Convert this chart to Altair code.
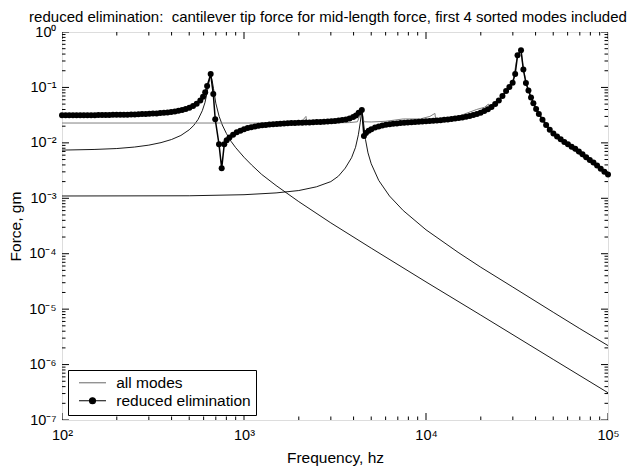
import altair as alt
import pandas as pd

FONT = "Liberation Sans"

# ---------------- data ----------------
# individual mode contribution 1 (thin black)
m1_freq = [100, 150, 200, 250, 300, 350, 400, 450, 500, 530, 560, 590, 610, 627, 642, 656,
           668, 680, 700, 730, 760, 800, 850, 900, 1000, 1100, 1250, 1500, 2000, 3000,
           5000, 10000, 20000, 50000, 100000]
m1_force = [0.0074, 0.0076, 0.0079, 0.0084, 0.0091, 0.0101, 0.0115, 0.0136, 0.0172, 0.0207,
            0.0266, 0.038, 0.053, 0.080, 0.125, 0.172, 0.135, 0.095, 0.052, 0.030, 0.021,
            0.0148, 0.0106, 0.0082, 0.0055, 0.0040, 0.0027, 0.0017, 0.00087, 0.00036,
            1.26e-4, 3.1e-5, 7.8e-6, 1.24e-6, 3.1e-7]

# individual mode contribution 2 (thin black)
m2_freq = [100, 500, 1000, 1500, 2000, 2500, 3000, 3300, 3600, 3900, 4100, 4250, 4350, 4440,
           4530, 4650, 4800, 5000, 5500, 6300, 7500, 10000, 15000, 20000, 30000, 50000,
           70000, 100000]
m2_force = [0.0011, 0.00111, 0.00116, 0.00125, 0.00138, 0.00161, 0.0020, 0.0025, 0.0035,
            0.0054, 0.0083, 0.014, 0.023, 0.039, 0.024, 0.0115, 0.0066, 0.0042, 0.0021,
            0.0011, 0.0006, 0.00027, 1.06e-4, 5.7e-5, 2.5e-5, 8.8e-6, 4.45e-6, 2.2e-6]

# all modes (thin grey)
all_freq = [100, 500, 1000, 1500, 1980, 2100, 2190, 2215, 2600, 3200, 3800, 4200, 4440,
            4560, 5000, 6000, 7500, 9300, 10500, 11200, 11300, 14000, 18970, 21000, 22000,
            22200, 24000, 26303, 29923, 31842, 33266, 34277, 36560, 40270, 50119, 63100,
            79430, 100000]
all_force = [0.0228, 0.0228, 0.0228, 0.0228, 0.0228, 0.0255, 0.030, 0.0230, 0.0229, 0.0230,
             0.0232, 0.0240, 0.039, 0.0240, 0.0238, 0.0245, 0.027, 0.027, 0.030, 0.034,
             0.0255, 0.0275, 0.040, 0.044, 0.050, 0.046, 0.051, 0.070, 0.122, 0.38, 0.47,
             0.21, 0.088, 0.041, 0.0148, 0.0078, 0.0045, 0.0026]

# reduced elimination (black line with dots)
red_freq = [100, 104.7, 109.6, 114.8, 120.2, 125.9, 131.8, 138.0, 144.5, 151.4, 158.5, 166.0,
            173.8, 182.0, 190.5, 199.5, 208.9, 218.8, 229.1, 239.9, 251.2, 263.0, 275.4,
            288.4, 302.0, 316.2, 331.1, 346.7, 363.1, 380.2, 398.1, 416.9, 436.5, 457.1,
            478.6, 501.2, 524.8, 549.5, 575.4, 595.7, 612, 627, 656, 678, 695, 729, 754,
            779, 803, 832, 871, 912, 955, 1000, 1047, 1096, 1148, 1202, 1259, 1318, 1380,
            1445, 1514, 1585, 1660, 1738, 1820, 1905, 1995, 2089, 2188, 2291, 2399, 2512,
            2630, 2754, 2884, 3020, 3162, 3311, 3467, 3631, 3802, 3981, 4121, 4266, 4440,
            4560, 4677, 4842, 5012, 5248, 5495, 5754, 6026, 6310, 6607, 6918, 7244, 7586,
            7943, 8318, 8710, 9120, 9550, 10000, 10471, 10965, 11482, 12023, 12589, 13183,
            13804, 14454, 15136, 15849, 16596, 17378, 18197, 19055, 19953, 20893, 21878,
            22909, 23988, 25119, 26303, 27542, 28710, 29923, 30903, 31842, 33266, 34277,
            35400, 36560, 37760, 38900, 40270, 41690, 43650, 45710, 47860, 50119, 52480,
            54950, 57540, 60260, 63100, 66070, 69180, 72440, 75860, 79430, 83180, 87100,
            91200, 95500, 100000]
red_force = [0.0314, 0.0314, 0.0314, 0.0314, 0.0315, 0.0315, 0.0315, 0.0316, 0.0316, 0.0316,
             0.0317, 0.0318, 0.0318, 0.0319, 0.0320, 0.0320, 0.0321, 0.0322, 0.0323, 0.0325,
             0.0326, 0.0328, 0.0330, 0.0332, 0.0334, 0.0337, 0.0340, 0.0344, 0.0348, 0.0354,
             0.0360, 0.0368, 0.0378, 0.0392, 0.041, 0.043, 0.046, 0.051, 0.058, 0.068, 0.082,
             0.106, 0.174, 0.076, 0.0266, 0.0094, 0.00347, 0.0094, 0.0112, 0.0125, 0.0140,
             0.0155, 0.0166, 0.0176, 0.0185, 0.0192, 0.0198, 0.0203, 0.0207, 0.0211, 0.0214,
             0.0217, 0.0219, 0.0221, 0.0223, 0.0225, 0.0227, 0.0228, 0.0230, 0.0231, 0.0232,
             0.0234, 0.0235, 0.0237, 0.0239, 0.0241, 0.0243, 0.0246, 0.0249, 0.0253, 0.0258,
             0.0265, 0.0275, 0.0292, 0.031, 0.035, 0.039, 0.0133, 0.0150, 0.0165, 0.0176,
             0.0189, 0.0198, 0.0206, 0.0212, 0.0217, 0.0221, 0.0224, 0.0227, 0.0230, 0.0233,
             0.0235, 0.0237, 0.0240, 0.0242, 0.0245, 0.0247, 0.0250, 0.0253, 0.0256, 0.0260,
             0.0264, 0.0269, 0.0274, 0.0280, 0.0288, 0.0296, 0.0306, 0.0318, 0.0333, 0.0351,
             0.0374, 0.0404, 0.0444, 0.050, 0.058, 0.070, 0.086, 0.102, 0.122, 0.175, 0.38,
             0.47, 0.21, 0.12, 0.088, 0.066, 0.052, 0.041, 0.033, 0.026, 0.021, 0.0172, 0.0148,
             0.0130, 0.0116, 0.0104, 0.0094, 0.0085, 0.0078, 0.0070, 0.0062, 0.0055, 0.0049,
             0.0044, 0.0039, 0.0034, 0.0030, 0.0027]

series_names = ["all modes", "reduced elimination"]
series_colors = ["#808080", "black"]

x_major = [100, 1000, 10000, 100000]
x_minor = [200, 300, 400, 500, 600, 700, 800, 900,
           2000, 3000, 4000, 5000, 6000, 7000, 8000, 9000,
           20000, 30000, 40000, 50000, 60000, 70000, 80000, 90000]
y_major = [1e-7, 1e-6, 1e-5, 1e-4, 1e-3, 1e-2, 1e-1, 1]
y_minor = [k * d for d in [1e-7, 1e-6, 1e-5, 1e-4, 1e-3, 1e-2, 1e-1] for k in range(2, 10)]

TITLE = ("reduced elimination:\u00a0 cantilever tip force for mid-length force, "
         "first 4 sorted modes included")

# ---------------- frames ----------------
modes_df = pd.DataFrame({
    "f": m1_freq + m2_freq,
    "F": m1_force + m2_force,
    "mode": ["mode 1"] * len(m1_freq) + ["mode 2"] * len(m2_freq),
})
all_df = pd.DataFrame({"f": all_freq, "F": all_force, "series": "all modes"})
red_df = pd.DataFrame({"f": red_freq, "F": red_force, "series": "reduced elimination"})

xs = alt.Scale(type="log", domain=[100, 100000], nice=False)
ys = alt.Scale(type="log", domain=[1e-7, 1], nice=False)

SUP = "['⁰','¹','²','³','⁴','⁵','⁶','⁷','⁸','⁹']"
x_label_expr = "'10' + " + SUP + "[round(log(datum.value)/LN10)]"
y_label_expr = ("datum.value > 0.5 ? '10⁰' : '10⁻' + " + SUP +
                "[round(-log(datum.value)/LN10)]")

x_axis = alt.Axis(values=x_major, ticks=False, domain=False, grid=False,
                  labelExpr=x_label_expr, labelFont=FONT, labelFontSize=14.5,
                  labelColor="black", labelPadding=8, labelFlush=False, labelOverlap=False,
                  labelBound=False, title="Frequency, hz", titleFont=FONT,
                  titleFontSize=15.5, titleFontWeight="normal", titleColor="black",
                  titlePadding=9)
y_axis = alt.Axis(values=y_major, ticks=False, domain=False, grid=False,
                  labelExpr=y_label_expr, labelFont=FONT, labelFontSize=14.5,
                  labelColor="black", labelPadding=6, labelFlush=False, labelOverlap=False,
                  labelBound=False, title="Force, gm", titleFont=FONT, titleFontSize=15.5,
                  titleFontWeight="normal", titleColor="black", titlePadding=5)

modes_layer = alt.Chart(modes_df).mark_line(color="black", strokeWidth=0.9).encode(
    x=alt.X("f:Q", scale=xs, axis=x_axis),
    y=alt.Y("F:Q", scale=ys, axis=y_axis),
    detail="mode:N",
)

all_layer = alt.Chart(all_df).mark_line(color="#808080", strokeWidth=1).encode(
    x=alt.X("f:Q", scale=xs, axis=None),
    y=alt.Y("F:Q", scale=ys, axis=None),
)

red_line = alt.Chart(red_df).mark_line(color="black", strokeWidth=1.5).encode(
    x=alt.X("f:Q", scale=xs, axis=None),
    y=alt.Y("F:Q", scale=ys, axis=None),
)

red_pts = alt.Chart(red_df).mark_circle(color="black", size=36, opacity=1).encode(
    x=alt.X("f:Q", scale=xs, axis=None),
    y=alt.Y("F:Q", scale=ys, axis=None),
)


# inward tick marks on all four sides of the frame (half of each tick is clipped away)
def xticks(values, length, at):
    return alt.Chart(pd.DataFrame({"v": values})).mark_tick(
        orient="vertical", size=2 * length, thickness=1, color="black", clip=True,
        opacity=1).encode(
        x=alt.X("v:Q", scale=xs, axis=None),
        y=alt.YDatum(at, scale=ys, axis=None),
    )


def yticks(values, length, at):
    return alt.Chart(pd.DataFrame({"v": values})).mark_tick(
        orient="horizontal", size=2 * length, thickness=1, color="black", clip=True,
        opacity=1).encode(
        y=alt.Y("v:Q", scale=ys, axis=None),
        x=alt.XDatum(at, scale=xs, axis=None),
    )


tick_layers = [
    xticks(x_major, 7, 1e-7), xticks(x_minor, 3.5, 1e-7),
    xticks(x_major, 7, 1), xticks(x_minor, 3.5, 1),
    yticks(y_major, 7, 100), yticks(y_minor, 3.5, 100),
    yticks(y_major, 7, 100000), yticks(y_minor, 3.5, 100000),
]

# legend: a grey line for "all modes", a black line with a dot for "reduced elimination"
line_path = "M-2,0L2,0"
dot_path = "M-2,0L2,0M0.44,0A0.44,0.44,0,1,1,-0.44,0A0.44,0.44,0,1,1,0.44,0Z"
leg = alt.Legend(orient="none", legendX=6, legendY=338, title=None, strokeColor="black",
                 fillColor="white", padding=5, labelFont=FONT, labelFontSize=15.5,
                 labelColor="black", symbolSize=182, symbolStrokeWidth=1.2,
                 symbolOpacity=1, symbolOffset=11.75, labelOffset=16, rowPadding=1)

legend_layer = alt.Chart(red_df).mark_point(opacity=0).encode(
    x=alt.X("f:Q", scale=xs, axis=None),
    y=alt.Y("F:Q", scale=ys, axis=None),
    fill=alt.Fill("series:N", scale=alt.Scale(domain=series_names, range=series_colors),
                  legend=leg),
    stroke=alt.Stroke("series:N", scale=alt.Scale(domain=series_names, range=series_colors),
                      legend=leg),
    shape=alt.Shape("series:N", scale=alt.Scale(domain=series_names,
                                                range=[line_path, dot_path]), legend=leg),
)

chart = alt.layer(
    modes_layer, all_layer, red_line, red_pts, *tick_layers, legend_layer
).resolve_axis(
    x="independent", y="independent"
).properties(
    width=546, height=388,
    autosize=alt.AutoSizeParams(type="none"),
    padding={"left": 54, "top": 24, "right": 28, "bottom": 50},
    title=alt.TitleParams(TITLE, font=FONT, fontSize=15, fontWeight="normal",
                          color="black", anchor="middle", frame="group", offset=1, dx=-7,
                          dy=2),
).configure_view(stroke="black", strokeWidth=1.5).configure(font=FONT, background="white")

chart.save("out.html", embed_options={"renderer": "svg", "actions": False})
